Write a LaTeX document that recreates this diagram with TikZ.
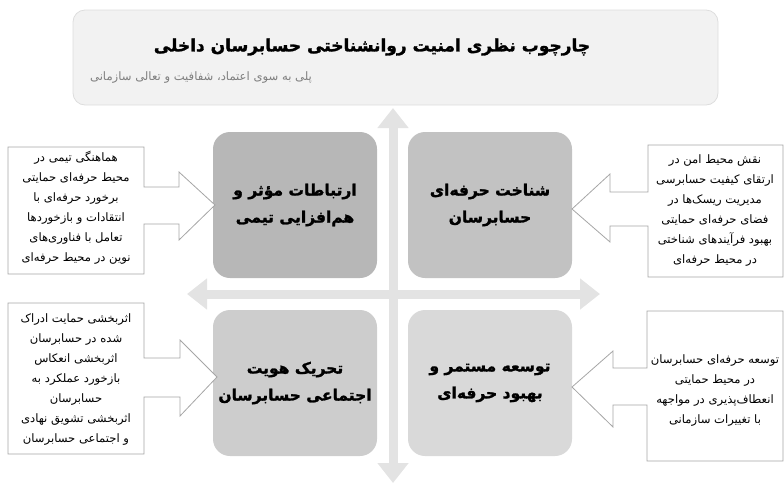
\documentclass[tikz,border=0pt]{standalone}
\usepackage{fontspec}
\newfontfamily\arabicfont[Script=Arabic, BoldFeatures={FakeBold=1.6}]{DejaVu Sans}
\TeXXeTstate=1
\usetikzlibrary{arrows.meta}
\definecolor{crossgray}{HTML}{E3E3E3}
\definecolor{headfill}{HTML}{F2F2F2}
\definecolor{headline}{HTML}{DDDDDD}
\definecolor{subgray}{HTML}{7F7F7F}
\definecolor{notegray}{HTML}{A6A6A6}
\definecolor{quadA}{HTML}{B7B7B7}
\definecolor{quadB}{HTML}{C2C2C2}
\definecolor{quadC}{HTML}{CDCDCD}
\definecolor{quadD}{HTML}{D9D9D9}
\newcommand{\fa}[1]{\beginR #1\endR}
\tikzset{quadbox/.style={rounded corners=17pt, minimum width=164pt, minimum height=146pt, align=center,
    font=\arabicfont\bfseries\fontsize{15.5}{27}\selectfont},
  notebox/.style={draw=notegray, fill=white, line width=.8pt},
  notetext/.style={align=center, font=\arabicfont\fontsize{11.6}{20}\selectfont},
  crossarrow/.style={draw=crossgray, line width=9pt,
    {Triangle[width=30pt,length=20pt]}-{Triangle[width=30pt,length=20pt]}}}

\begin{document}
\begin{tikzpicture}[x=1pt,y=-1pt]
        \useasboundingbox (0,0) rectangle (784,483);

        % the cross
        \coordinate (vtop) at (393,108);
        \coordinate (vbot) at (393,483);
        \coordinate (hleft) at (187,294);
        \coordinate (hright) at (600,294);
        \draw[crossarrow] (vtop) -- (vbot);
        \draw[crossarrow] (hleft) -- (hright);

        % heading
        \node[draw=headline, fill=headfill, line width=.8pt, rounded corners=12pt,
            minimum width=645pt, minimum height=95pt] (head) at (395.5,57.5) {};
        \node[font=\arabicfont\bfseries\fontsize{17}{20}\selectfont] (title) at (372,47)
            {\fa{چارچوب نظری امنیت روانشناختی حسابرسان داخلی}};
        \node[subgray, font=\arabicfont\fontsize{11.6}{14}\selectfont] (subtitle) at (201,78)
            {\fa{پلی به سوی اعتماد، شفافیت و تعالی سازمانی}};

        % four quadrants
        \node[quadbox, fill=quadA] (comm) at (295,205)
            {\fa{ارتباطات مؤثر و}\\\fa{هم^^^^200cافزایی تیمی}};
        \node[quadbox, fill=quadB] (cogn) at (490,205)
            {\fa{شناخت حرفه^^^^200cای}\\\fa{حسابرسان}};
        \node[quadbox, fill=quadC] (ident) at (295,383)
            {\fa{تحریک هویت}\\\fa{اجتماعی حسابرسان}};
        \node[quadbox, fill=quadD] (devel) at (490,383)
            {\fa{توسعه مستمر و}\\\fa{بهبود حرفه^^^^200cای}};

        % callouts
        \draw[notebox] (8,147) -- (144,147) -- (144,187) -- (179,187) -- (179,172) -- (215,205)
            -- (179,240) -- (179,224) -- (144,224) -- (144,274) -- (8,274) -- cycle;
        \draw[notebox] (783,145) -- (648,145) -- (648,192) -- (610,192) -- (610,174) -- (572,209)
            -- (610,242) -- (610,226) -- (648,226) -- (648,277) -- (783,277) -- cycle;
        \draw[notebox] (8,303) -- (144,303) -- (144,358) -- (180,358) -- (180,340) -- (217,377)
            -- (180,416) -- (180,397) -- (144,397) -- (144,454) -- (8,454) -- cycle;
        \draw[notebox] (783,311) -- (647,311) -- (647,368) -- (613,368) -- (613,351) -- (572,387)
            -- (613,427) -- (613,405) -- (647,405) -- (647,461) -- (783,461) -- cycle;

        \node[notetext] (commnote) at (76,208)
            {\fa{هماهنگی تیمی در}\\\fa{محیط حرفه^^^^200cای حمایتی}\\\fa{برخورد حرفه^^^^200cای با}\\
             \fa{انتقادات و بازخوردها}\\\fa{تعامل با فناوری^^^^200cهای}\\\fa{نوین در محیط حرفه^^^^200cای}};
        \node[notetext] (cognnote) at (715,211)
            {\fa{نقش محیط امن در}\\\fa{ارتقای کیفیت حسابرسی}\\\fa{مدیریت ریسک^^^^200cها در}\\
             \fa{فضای حرفه^^^^200cای حمایتی}\\\fa{بهبود فرآیندهای شناختی}\\\fa{در محیط حرفه^^^^200cای}};
        \node[notetext] (identnote) at (76,379)
            {\fa{اثربخشی حمایت ادراک}\\\fa{شده در حسابرسان}\\\fa{اثربخشی انعکاس}\\
             \fa{بازخورد عملکرد به}\\\fa{حسابرسان}\\\fa{اثربخشی تشویق نهادی}\\\fa{و اجتماعی حسابرسان}};
        \node[notetext] (develnote) at (715,390)
            {\fa{توسعه حرفه^^^^200cای حسابرسان}\\\fa{در محیط حمایتی}\\
             \fa{انعطاف^^^^200cپذیری در مواجهه}\\\fa{با تغییرات سازمانی}};
\end{tikzpicture}
\end{document}
